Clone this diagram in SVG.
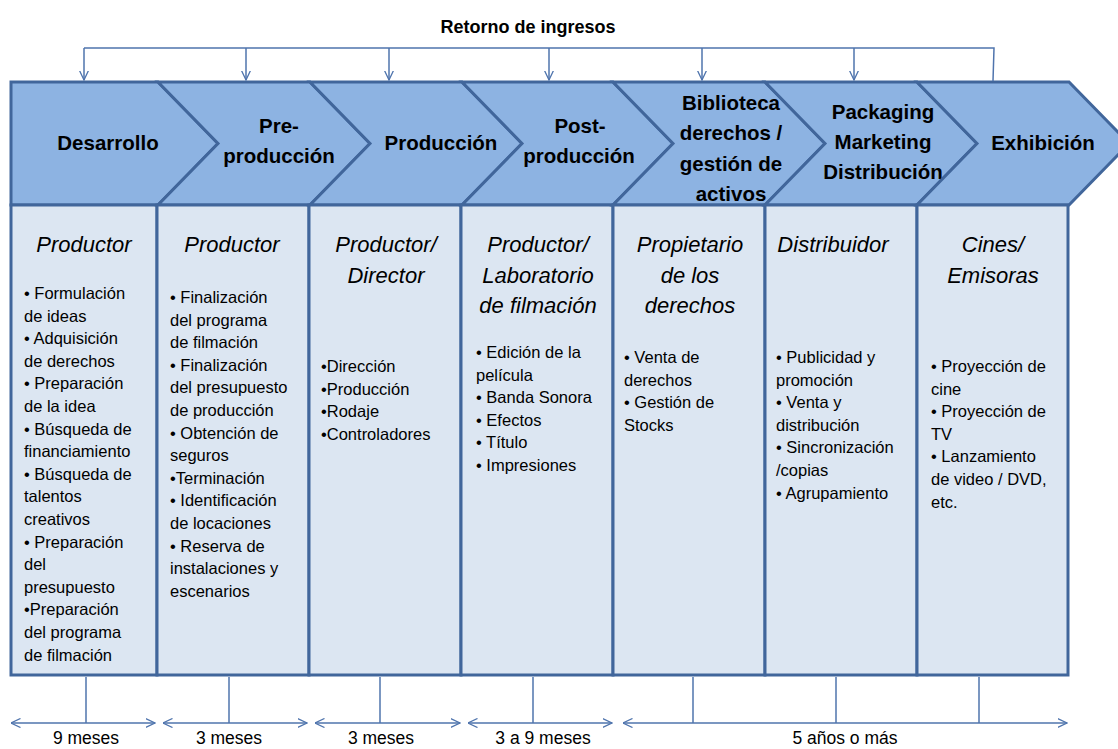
<svg xmlns="http://www.w3.org/2000/svg" width="1118" height="749" viewBox="0 0 1118 749">
<defs>
<marker id="ah" viewBox="0 0 10 10" refX="9.5" refY="5" markerWidth="10" markerHeight="10" markerUnits="userSpaceOnUse" orient="auto-start-reverse">
<path d="M0,0.5 L9.5,5 L0,9.5" fill="none" stroke="#4F74AD" stroke-width="1.3"/>
</marker>
<style>
.chev{fill:#8DB3E2;stroke:#41669B;stroke-width:3;stroke-linejoin:miter}
.col{fill:#DCE6F2;stroke:#41669B;stroke-width:3}
.ct{font-family:"Liberation Sans",Arial,sans-serif;font-weight:bold;font-size:20.5px;fill:#000;text-anchor:middle}
.hd{font-family:"Liberation Sans",Arial,sans-serif;font-style:italic;font-size:22px;fill:#000;text-anchor:middle}
.bl{font-family:"Liberation Sans",Arial,sans-serif;font-size:16.5px;fill:#000}
.lb{font-family:"Liberation Sans",Arial,sans-serif;font-size:17.5px;fill:#000;text-anchor:middle}
.ttl{font-family:"Liberation Sans",Arial,sans-serif;font-weight:bold;font-size:18px;fill:#000;text-anchor:middle}
.cn{fill:none;stroke:#4F74AD;stroke-width:1.5}
</style>
</defs>
<rect width="1118" height="749" fill="#FFFFFF"/>
<text class="ttl" x="528" y="33">Retorno de ingresos</text>

<g id="stage-desarrollo">
<polygon class="chev" points="11,82 158,82 218,143.5 158,205 11,205"/>
<text class="ct" x="108" y="150">Desarrollo</text>
<rect class="col" x="11" y="205" width="146" height="470"/>
<text class="hd" x="84" y="252">Productor</text>
<text class="bl" x="24" y="299"><tspan x="24">• Formulación</tspan><tspan x="24" dy="22.6">de ideas</tspan><tspan x="24" dy="22.6">• Adquisición</tspan><tspan x="24" dy="22.6">de derechos</tspan><tspan x="24" dy="22.6">• Preparación</tspan><tspan x="24" dy="22.6">de la idea</tspan><tspan x="24" dy="22.6">• Búsqueda de</tspan><tspan x="24" dy="22.6">financiamiento</tspan><tspan x="24" dy="22.6">• Búsqueda de</tspan><tspan x="24" dy="22.6">talentos</tspan><tspan x="24" dy="22.6">creativos</tspan><tspan x="24" dy="22.6">• Preparación</tspan><tspan x="24" dy="22.6">del</tspan><tspan x="24" dy="22.6">presupuesto</tspan><tspan x="24" dy="22.6">•Preparación</tspan><tspan x="24" dy="22.6">del programa</tspan><tspan x="24" dy="22.6">de filmación</tspan></text>
</g>

<g id="stage-preproduccion">
<polygon class="chev" points="158,82 310,82 370,143.5 310,205 158,205 218,143.5"/>
<text class="ct" x="279" y="133">Pre-</text>
<text class="ct" x="279" y="163">producción</text>
<rect class="col" x="157" y="205" width="152" height="470"/>
<text class="hd" x="232" y="252">Productor</text>
<text class="bl" x="170" y="303"><tspan x="170">• Finalización</tspan><tspan x="170" dy="22.6">del programa</tspan><tspan x="170" dy="22.6">de filmación</tspan><tspan x="170" dy="22.6">• Finalización</tspan><tspan x="170" dy="22.6">del presupuesto</tspan><tspan x="170" dy="22.6">de producción</tspan><tspan x="170" dy="22.6">• Obtención de</tspan><tspan x="170" dy="22.6">seguros</tspan><tspan x="170" dy="22.6">•Terminación</tspan><tspan x="170" dy="22.6">• Identificación</tspan><tspan x="170" dy="22.6">de locaciones</tspan><tspan x="170" dy="22.6">• Reserva de</tspan><tspan x="170" dy="22.6">instalaciones y</tspan><tspan x="170" dy="22.6">escenarios</tspan></text>
</g>

<g id="stage-produccion">
<polygon class="chev" points="310,82 462,82 522,143.5 462,205 310,205 370,143.5"/>
<text class="ct" x="441" y="150">Producción</text>
<rect class="col" x="309" y="205" width="152" height="470"/>
<text class="hd" x="386" y="252">Productor/</text>
<text class="hd" x="386" y="283">Director</text>
<text class="bl" x="321" y="372"><tspan x="321">•Dirección</tspan><tspan x="321" dy="22.6">•Producción</tspan><tspan x="321" dy="22.6">•Rodaje</tspan><tspan x="321" dy="22.6">•Controladores</tspan></text>
</g>

<g id="stage-postproduccion">
<polygon class="chev" points="462,82 613,82 673,143.5 613,205 462,205 522,143.5"/>
<text class="ct" x="580" y="133">Post-</text>
<text class="ct" x="579" y="163">producción</text>
<rect class="col" x="461" y="205" width="152" height="470"/>
<text class="hd" x="538" y="252">Productor/</text>
<text class="hd" x="538" y="283">Laboratorio</text>
<text class="hd" x="538" y="313">de filmación</text>
<text class="bl" x="476" y="358"><tspan x="476">• Edición de la</tspan><tspan x="476" dy="22.6">película</tspan><tspan x="476" dy="22.6">• Banda Sonora</tspan><tspan x="476" dy="22.6">• Efectos</tspan><tspan x="476" dy="22.6">• Título</tspan><tspan x="476" dy="22.6">• Impresiones</tspan></text>
</g>

<g id="stage-biblioteca">
<polygon class="chev" points="613,82 765,82 825,143.5 765,205 613,205 673,143.5"/>
<text class="ct" x="731" y="110">Biblioteca</text>
<text class="ct" x="731" y="140">derechos /</text>
<text class="ct" x="731" y="171">gestión de</text>
<text class="ct" x="731" y="201">activos</text>
<rect class="col" x="613" y="205" width="152" height="470"/>
<text class="hd" x="690" y="252">Propietario</text>
<text class="hd" x="690" y="283">de los</text>
<text class="hd" x="690" y="313">derechos</text>
<text class="bl" x="624" y="363"><tspan x="624">• Venta de</tspan><tspan x="624" dy="22.6">derechos</tspan><tspan x="624" dy="22.6">• Gestión de</tspan><tspan x="624" dy="22.6">Stocks</tspan></text>
</g>

<g id="stage-packaging">
<polygon class="chev" points="765,82 917,82 977,143.5 917,205 765,205 825,143.5"/>
<text class="ct" x="883" y="119">Packaging</text>
<text class="ct" x="883" y="149">Marketing</text>
<text class="ct" x="883" y="179">Distribución</text>
<rect class="col" x="765" y="205" width="152" height="470"/>
<text class="hd" x="833" y="252">Distribuidor</text>
<text class="bl" x="776" y="363"><tspan x="776">• Publicidad y</tspan><tspan x="776" dy="22.6">promoción</tspan><tspan x="776" dy="22.6">• Venta y</tspan><tspan x="776" dy="22.6">distribución</tspan><tspan x="776" dy="22.6">• Sincronización</tspan><tspan x="776" dy="22.6">/copias</tspan><tspan x="776" dy="22.6">• Agrupamiento</tspan></text>
</g>

<g id="stage-exhibicion">
<polygon class="chev" points="917,82 1069,82 1129,143.5 1069,205 917,205 977,143.5"/>
<text class="ct" x="1043" y="150">Exhibición</text>
<rect class="col" x="917" y="205" width="151" height="470"/>
<text class="hd" x="993" y="252">Cines/</text>
<text class="hd" x="993" y="283">Emisoras</text>
<text class="bl" x="931" y="372"><tspan x="931">• Proyección de</tspan><tspan x="931" dy="22.6">cine</tspan><tspan x="931" dy="22.6">• Proyección de</tspan><tspan x="931" dy="22.6">TV</tspan><tspan x="931" dy="22.6">• Lanzamiento</tspan><tspan x="931" dy="22.6">de video / DVD,</tspan><tspan x="931" dy="22.6">etc.</tspan></text>
</g>

<g id="connectors">
<path class="cn" d="M84,48 H994 L993,81"/>
<line class="cn" x1="84" y1="48" x2="84" y2="80" marker-end="url(#ah)"/>
<line class="cn" x1="246" y1="48" x2="246" y2="80" marker-end="url(#ah)"/>
<line class="cn" x1="389" y1="48" x2="389" y2="80" marker-end="url(#ah)"/>
<line class="cn" x1="549" y1="48" x2="549" y2="80" marker-end="url(#ah)"/>
<line class="cn" x1="702" y1="48" x2="702" y2="80" marker-end="url(#ah)"/>
<line class="cn" x1="854" y1="48" x2="854" y2="80" marker-end="url(#ah)"/>

<line class="cn" x1="86" y1="677" x2="86" y2="723"/>
<line class="cn" x1="229" y1="677" x2="229" y2="723"/>
<line class="cn" x1="380" y1="677" x2="380" y2="723"/>
<line class="cn" x1="533" y1="677" x2="533" y2="723"/>
<line class="cn" x1="693" y1="677" x2="693" y2="723"/>
<line class="cn" x1="836" y1="677" x2="836" y2="723"/>
<line class="cn" x1="979" y1="677" x2="979" y2="723"/>

<line class="cn" x1="11" y1="723" x2="155" y2="723" marker-start="url(#ah)" marker-end="url(#ah)"/>
<line class="cn" x1="163" y1="723" x2="307" y2="723" marker-start="url(#ah)" marker-end="url(#ah)"/>
<line class="cn" x1="315" y1="723" x2="460" y2="723" marker-start="url(#ah)" marker-end="url(#ah)"/>
<line class="cn" x1="468" y1="723" x2="612" y2="723" marker-start="url(#ah)" marker-end="url(#ah)"/>
<line class="cn" x1="623" y1="723" x2="1067" y2="723" marker-start="url(#ah)" marker-end="url(#ah)"/>
</g>

<g id="durations">
<text class="lb" x="86" y="744">9 meses</text>
<text class="lb" x="229" y="744">3 meses</text>
<text class="lb" x="381" y="744">3 meses</text>
<text class="lb" x="543" y="744">3 a 9 meses</text>
<text class="lb" x="845" y="744">5 años o más</text>
</g>
</svg>
